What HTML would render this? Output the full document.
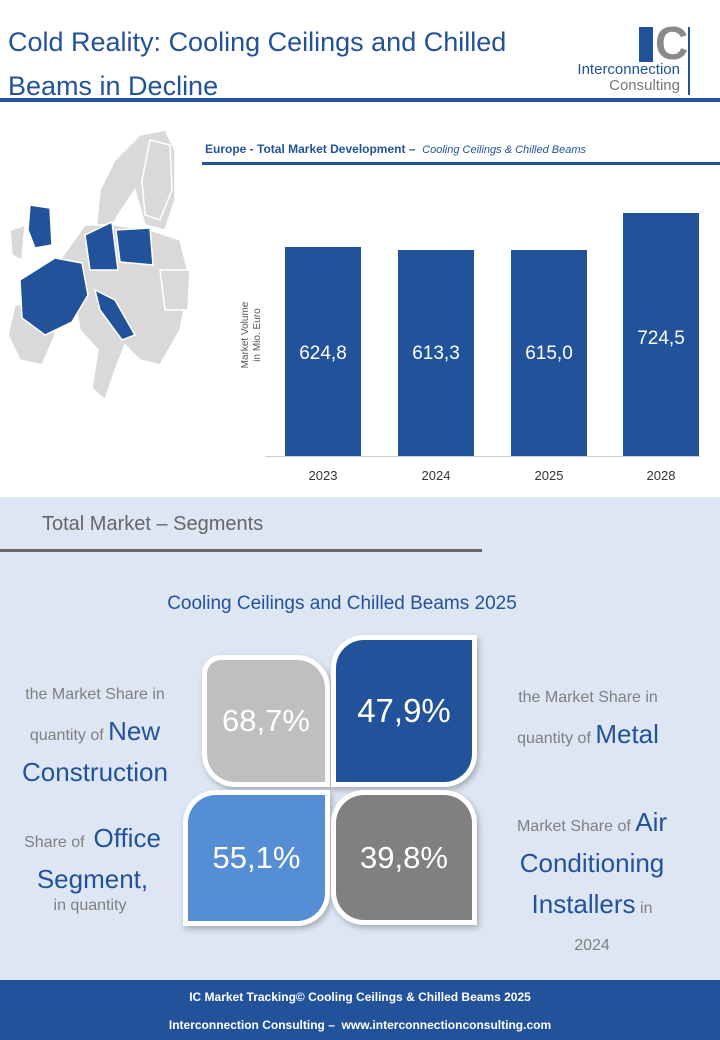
<!DOCTYPE html>
<html><head><meta charset="utf-8"><style>
body{margin:0;width:720px;height:1040px;position:relative;background:#fff;font-family:"Liberation Sans",sans-serif;overflow:hidden}
.a{position:absolute}
.t{color:#22539a}
.g{color:#7f7f7f}
.tile{position:absolute;color:#fff;font-size:31px;display:flex;align-items:center;justify-content:center;box-shadow:0 0 0 5px #fff,2px 3px 6px 5px rgba(0,0,0,.25)}
</style></head><body>
<div class="a t" style="left:8px;top:20px;font-size:27px;line-height:44px;">Cold Reality: Cooling Ceilings and Chilled<br>Beams in Decline</div>
<div class="a" style="left:639px;top:27px;width:14px;height:35px;background:#22539a"></div>
<div class="a" style="left:655px;top:20px;font-size:46px;font-weight:bold;color:#8a8a8a;line-height:46px">C</div>
<div class="a" style="left:688px;top:27px;width:2px;height:68px;background:#22539a"></div>
<div class="a t" style="left:560px;top:62px;font-size:15px;width:120px;text-align:right;line-height:16px">Interconnection<br><span style="color:#777">Consulting</span></div>
<div class="a" style="left:0;top:98px;width:720px;height:4px;background:#22539a"></div>
<!-- map -->
<svg class="a" style="left:0;top:130px" width="200" height="280" viewBox="0 0 200 280">
<g fill="#d9d9d9" stroke="#fff" stroke-width="1.5">
<path d="M95 110 L100 60 L115 30 L140 5 L165 0 L175 20 L175 70 L165 100 L145 95 L135 60 L118 85 L105 110Z"/>
<path d="M150 10 L170 15 L172 60 L160 90 L145 85 L142 50Z"/>
<path d="M60 130 L85 95 L115 95 L150 100 L180 110 L190 150 L185 175 L180 200 L160 235 L140 230 L125 215 L115 240 L105 270 L92 258 L98 220 L80 200 L75 170Z"/>
<path d="M15 175 L45 172 L55 205 L42 235 L20 230 L8 205Z"/>
<path d="M10 100 L25 95 L22 130 L12 125Z"/>
<path d="M160 140 L190 140 L188 180 L165 180Z"/>
</g>
<g fill="#22539a" stroke="#fff" stroke-width="1.5">
<path d="M30 75 L50 78 L52 115 L35 118 L28 100Z"/>
<path d="M20 150 L55 128 L82 133 L88 165 L72 192 L45 205 L22 188Z"/>
<path d="M85 105 L112 92 L118 140 L90 140Z"/>
<path d="M116 100 L150 98 L153 135 L120 132Z"/>
<path d="M95 160 L115 170 L135 205 L122 210 L100 180Z"/>
</g>
</svg>
<div class="a t" style="left:205px;top:142px;font-size:12px;font-weight:bold">Europe - Total Market Development –&nbsp; <i style="font-weight:normal;font-size:11px">Cooling Ceilings &amp; Chilled Beams</i></div>
<div class="a" style="left:202px;top:162px;width:518px;height:3px;background:#22539a"></div>
<div class="a" style="width:80px;font-size:10px;color:#555;transform:rotate(-90deg);transform-origin:0 0;text-align:center;line-height:12px;top:375px;left:240px">Market Volume<br>in Mio. Euro</div>
<div class="a" style="left:265px;top:456px;width:435px;height:1px;background:#ccc"></div>
<div class="a" style="left:285px;top:247px;width:76px;height:209px;background:#22539a"></div>
<div class="a" style="left:398px;top:250px;width:76px;height:206px;background:#22539a"></div>
<div class="a" style="left:511px;top:250px;width:76px;height:206px;background:#22539a"></div>
<div class="a" style="left:623px;top:213px;width:76px;height:243px;background:#22539a"></div>
<div class="a" style="left:285px;top:343px;width:76px;text-align:center;color:#fff;font-size:19px">624,8</div>
<div class="a" style="left:398px;top:343px;width:76px;text-align:center;color:#fff;font-size:19px">613,3</div>
<div class="a" style="left:511px;top:343px;width:76px;text-align:center;color:#fff;font-size:19px">615,0</div>
<div class="a" style="left:623px;top:328px;width:76px;text-align:center;color:#fff;font-size:19px">724,5</div>
<div class="a" style="left:285px;top:468px;width:76px;text-align:center;font-size:13px;color:#333">2023</div>
<div class="a" style="left:398px;top:468px;width:76px;text-align:center;font-size:13px;color:#333">2024</div>
<div class="a" style="left:511px;top:468px;width:76px;text-align:center;font-size:13px;color:#333">2025</div>
<div class="a" style="left:623px;top:468px;width:76px;text-align:center;font-size:13px;color:#333">2028</div>
<!-- segments -->
<div class="a" style="left:0;top:497px;width:720px;height:483px;background:#dde6f2"></div>
<div class="a g" style="left:42px;top:513px;font-size:20px;color:#666">Total Market – Segments</div>
<div class="a" style="left:0;top:549px;width:482px;height:3px;background:#666"></div>
<div class="a t" style="left:0;top:593px;width:684px;text-align:center;font-size:19px">Cooling Ceilings and Chilled Beams 2025</div>
<div class="tile" style="left:207px;top:660px;width:118px;height:122px;background:#bfbfbf;border-radius:14px 28px 0 28px">68,7%</div>
<div class="tile" style="left:336px;top:640px;width:136px;height:142px;background:#22539a;border-radius:28px 0 28px 0;font-size:33px">47,9%</div>
<div class="tile" style="left:188px;top:795px;width:137px;height:126px;background:#558ed5;border-radius:28px 0 28px 0">55,1%</div>
<div class="tile" style="left:336px;top:795px;width:136px;height:125px;background:#808080;border-radius:28px 28px 0 28px">39,8%</div>
<div class="a g" style="left:0;top:676px;width:190px;text-align:center;font-size:16px;line-height:37px"><span style="color:#808080">the Market Share in</span><br><span style="color:#808080">quantity of </span><span class="t" style="font-size:26px">New</span><br><span class="t" style="font-size:26px">Construction</span></div>
<div class="a g" style="left:490px;top:680px;width:196px;text-align:center;font-size:16px;line-height:36px"><span style="color:#808080">the Market Share in</span><br><span style="color:#808080">quantity of </span><span class="t" style="font-size:26px">Metal</span></div>
<div class="a" style="left:0;top:820px;width:185px;text-align:center;line-height:36px"><span style="color:#808080;font-size:16px">Share of&nbsp; </span><span class="t" style="font-size:26px">Office</span><br><span class="t" style="font-size:26px">Segment,</span></div>
<div class="a" style="left:0;top:897px;width:180px;text-align:center;color:#808080;font-size:16px">in quantity</div>
<div class="a" style="left:500px;top:804px;width:184px;text-align:center;line-height:37px"><span style="color:#808080;font-size:16px">Market Share of </span><span class="t" style="font-size:26px">Air</span><br><span class="t" style="font-size:26px">Conditioning</span><br><span class="t" style="font-size:26px">Installers</span><span style="color:#808080;font-size:16px"> in</span><br><span style="color:#808080;font-size:16px">2024</span></div>
<div class="a" style="left:0;top:980px;width:720px;height:60px;background:#22539a;color:#fff;font-size:12px;font-weight:bold;text-align:center;line-height:28px;padding-top:3px;box-sizing:border-box">IC Market Tracking© Cooling Ceilings &amp; Chilled Beams 2025<br>Interconnection Consulting –&nbsp; www.interconnectionconsulting.com</div>
</body></html>
